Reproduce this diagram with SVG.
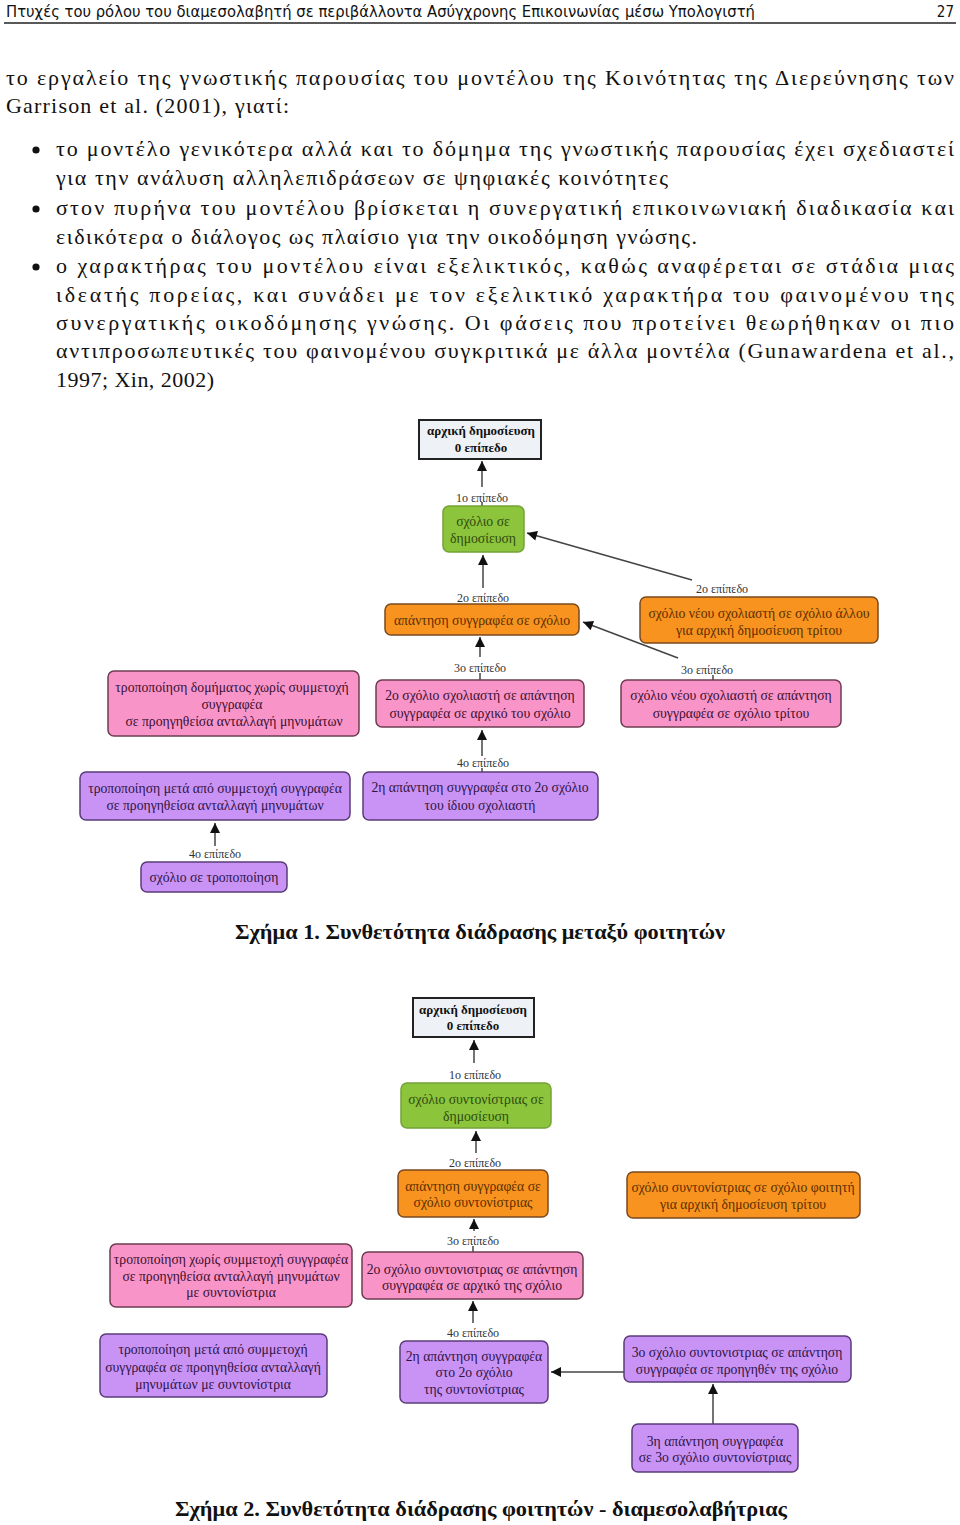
<svg xmlns="http://www.w3.org/2000/svg" width="960" height="1525" viewBox="0 0 960 1525">
<style>
.hdr{font-family:"DejaVu Sans Condensed","DejaVu Sans",sans-serif;font-stretch:condensed;font-size:15px;fill:#111}
.p{font-family:"Liberation Serif",serif;font-size:22px;fill:#111}
.cap{font-family:"Liberation Serif",serif;font-size:21px;font-weight:bold;fill:#111;text-anchor:middle}
.lbl{font-family:"Liberation Serif",serif;font-size:12px;fill:#333;text-anchor:middle}
.t{font-family:"Liberation Serif",serif;font-size:13.7px;text-anchor:middle}
.tb{font-family:"Liberation Serif",serif;font-size:13px;font-weight:bold;fill:#111;text-anchor:middle}
.root{fill:#eef2f7;stroke:#222;stroke-width:2}
.g{fill:#8cc43c;stroke:#74a338;stroke-width:1.5}
.gt{fill:#2f4a10}
.o{fill:#f7931e;stroke:#7a4a20;stroke-width:1.5}
.ot{fill:#5b2e00}
.pk{fill:#f894c8;stroke:#6e3c50;stroke-width:1.5}
.pkt{fill:#3a1030}
.pu{fill:#c992f5;stroke:#5a3c78;stroke-width:1.5}
.put{fill:#2e1444}
.c{stroke:#444;stroke-width:1.5;fill:none}
.ca{stroke:#444;stroke-width:1.5;fill:none;marker-end:url(#ah)}
</style>
<defs>
<marker id="ah" viewBox="0 0 10 10" refX="10" refY="5" markerWidth="11" markerHeight="10" markerUnits="userSpaceOnUse" orient="auto"><path d="M0,0 L10,5 L0,10 z" fill="#111"/></marker>
</defs>
<rect width="960" height="1525" fill="#fff"/>

<g id="header">
<text class="hdr" x="6" y="17" textLength="749" lengthAdjust="spacingAndGlyphs">Πτυχές του ρόλου του διαμεσολαβητή σε περιβάλλοντα Ασύγχρονης Επικοινωνίας μέσω Υπολογιστή</text>
<text class="hdr" x="954" y="17" text-anchor="end">27</text>
<line x1="4" y1="23" x2="956" y2="23" stroke="#222" stroke-width="1.5"/>
</g>

<g id="body-text">
<text class="p" x="6" y="85" textLength="948" lengthAdjust="spacing">το εργαλείο της γνωστικής παρουσίας του μοντέλου της Κοινότητας της Διερεύνησης των</text>
<text class="p" x="6" y="113" textLength="283" lengthAdjust="spacing">Garrison et al. (2001), γιατί:</text>
<circle cx="36" cy="150" r="3.6" fill="#111"/>
<circle cx="36" cy="209" r="3.6" fill="#111"/>
<circle cx="36" cy="267" r="3.6" fill="#111"/>
<text class="p" x="56" y="156" textLength="898" lengthAdjust="spacing">το μοντέλο γενικότερα αλλά και το δόμημα της γνωστικής παρουσίας έχει σχεδιαστεί</text>
<text class="p" x="56" y="185" textLength="612" lengthAdjust="spacing">για την ανάλυση αλληλεπιδράσεων σε ψηφιακές κοινότητες</text>
<text class="p" x="56" y="215" textLength="898" lengthAdjust="spacing">στον πυρήνα του μοντέλου βρίσκεται η συνεργατική επικοινωνιακή διαδικασία και</text>
<text class="p" x="56" y="244" textLength="641" lengthAdjust="spacing">ειδικότερα ο διάλογος ως πλαίσιο για την οικοδόμηση γνώσης.</text>
<text class="p" x="56" y="273" textLength="898" lengthAdjust="spacing">ο χαρακτήρας του μοντέλου είναι εξελικτικός, καθώς αναφέρεται σε στάδια μιας</text>
<text class="p" x="56" y="302" textLength="898" lengthAdjust="spacing">ιδεατής πορείας, και συνάδει με τον εξελικτικό χαρακτήρα του φαινομένου της</text>
<text class="p" x="56" y="330" textLength="898" lengthAdjust="spacing">συνεργατικής οικοδόμησης γνώσης. Οι φάσεις που προτείνει θεωρήθηκαν οι πιο</text>
<text class="p" x="56" y="358" textLength="898" lengthAdjust="spacing">αντιπροσωπευτικές του φαινομένου συγκριτικά με άλλα μοντέλα (Gunawardena et al.,</text>
<text class="p" x="56" y="387" textLength="158" lengthAdjust="spacing">1997; Xin, 2002)</text>
</g>

<!-- Figure 1 -->
<g id="f1-connectors">
<line class="ca" x1="482" y1="487" x2="482" y2="461"/>
<line class="c" x1="482" y1="502" x2="482" y2="506"/>
<line class="ca" x1="483" y1="588" x2="483" y2="555"/>
<line class="ca" x1="692" y1="580" x2="527" y2="533"/>
<line class="ca" x1="480" y1="657" x2="480" y2="637"/>
<line class="c" x1="480" y1="673" x2="480" y2="680"/>
<line class="ca" x1="678" y1="658" x2="583" y2="622"/>
<line class="c" x1="713" y1="675" x2="713" y2="681"/>
<line class="ca" x1="482" y1="756" x2="482" y2="730"/>
<line class="c" x1="482" y1="768" x2="482" y2="773"/>
<line class="ca" x1="215" y1="846" x2="215" y2="823"/>
</g>
<g id="f1-labels">
<text class="lbl" x="482" y="502">1ο επίπεδο</text>
<text class="lbl" x="483" y="602">2ο επίπεδο</text>
<text class="lbl" x="722" y="593">2ο επίπεδο</text>
<text class="lbl" x="480" y="672">3ο επίπεδο</text>
<text class="lbl" x="707" y="674">3ο επίπεδο</text>
<text class="lbl" x="483" y="767">4ο επίπεδο</text>
<text class="lbl" x="215" y="858">4ο επίπεδο</text>
</g>
<g id="f1-root">
<rect class="root" x="419" y="420" width="122" height="39"/>
<text class="tb" x="481" y="435">αρχική δημοσίευση</text>
<text class="tb" x="481" y="452">0 επίπεδο</text>
</g>
<g id="f1-comment">
<rect class="g" x="443" y="506" width="81" height="46" rx="6"/>
<text class="t gt" x="483" y="526">σχόλιο σε</text>
<text class="t gt" x="483" y="543">δημοσίευση</text>
</g>
<g id="f1-reply">
<rect class="o" x="385" y="604" width="194" height="31" rx="6"/>
<text class="t ot" x="482" y="625">απάντηση συγγραφέα σε σχόλιο</text>
</g>
<g id="f1-newcomment">
<rect class="o" x="640" y="597" width="238" height="46" rx="6"/>
<text class="t ot" x="759" y="618">σχόλιο νέου σχολιαστή σε σχόλιο άλλου</text>
<text class="t ot" x="759" y="635">για αρχική δημοσίευση τρίτου</text>
</g>
<g id="f1-modify-no">
<rect class="pk" x="108" y="671" width="251" height="65" rx="6"/>
<text class="t pkt" x="232" y="692">τροποποίηση δομήματος χωρίς συμμετοχή</text>
<text class="t pkt" x="232" y="709">συγγραφέα</text>
<text class="t pkt" x="234" y="726">σε προηγηθείσα ανταλλαγή μηνυμάτων</text>
</g>
<g id="f1-second-comment">
<rect class="pk" x="376" y="680" width="208" height="47" rx="6"/>
<text class="t pkt" x="480" y="700">2ο σχόλιο σχολιαστή σε απάντηση</text>
<text class="t pkt" x="480" y="718">συγγραφέα σε αρχικό του σχόλιο</text>
</g>
<g id="f1-new-reply">
<rect class="pk" x="621" y="680" width="220" height="47" rx="6"/>
<text class="t pkt" x="731" y="700">σχόλιο νέου σχολιαστή σε απάντηση</text>
<text class="t pkt" x="731" y="718">συγγραφέα σε σχόλιο τρίτου</text>
</g>
<g id="f1-modify-with">
<rect class="pu" x="80" y="772" width="270" height="48" rx="6"/>
<text class="t put" x="215" y="793">τροποποίηση μετά από συμμετοχή συγγραφέα</text>
<text class="t put" x="215" y="810">σε προηγηθείσα ανταλλαγή μηνυμάτων</text>
</g>
<g id="f1-second-reply">
<rect class="pu" x="363" y="772" width="235" height="48" rx="6"/>
<text class="t put" x="480" y="792">2η απάντηση συγγραφέα στο 2ο σχόλιο</text>
<text class="t put" x="480" y="810">του ίδιου σχολιαστή</text>
</g>
<g id="f1-comment-mod">
<rect class="pu" x="141" y="862" width="146" height="30" rx="6"/>
<text class="t put" x="214" y="882">σχόλιο σε τροποποίηση</text>
</g>
<text class="cap" x="480" y="939" textLength="490" lengthAdjust="spacingAndGlyphs">Σχήμα 1. Συνθετότητα διάδρασης μεταξύ φοιτητών</text>

<!-- Figure 2 -->
<g id="f2-connectors">
<line class="ca" x1="474" y1="1063" x2="474" y2="1040"/>
<line class="ca" x1="476" y1="1153" x2="476" y2="1131"/>
<line class="ca" x1="474" y1="1231" x2="474" y2="1219"/>
<line class="c" x1="473" y1="1246" x2="473" y2="1252"/>
<line class="ca" x1="473" y1="1323" x2="473" y2="1301"/>
<line class="ca" x1="625" y1="1372" x2="551" y2="1372"/>
<line class="ca" x1="713" y1="1424" x2="713" y2="1384"/>
</g>
<g id="f2-labels">
<text class="lbl" x="475" y="1079">1ο επίπεδο</text>
<text class="lbl" x="475" y="1167">2ο επίπεδο</text>
<text class="lbl" x="473" y="1245">3ο επίπεδο</text>
<text class="lbl" x="473" y="1337">4ο επίπεδο</text>
</g>
<g id="f2-root">
<rect class="root" x="413" y="998" width="121" height="39"/>
<text class="tb" x="473" y="1014">αρχική δημοσίευση</text>
<text class="tb" x="473" y="1030">0 επίπεδο</text>
</g>
<g id="f2-comment">
<rect class="g" x="401" y="1083" width="150" height="45" rx="6"/>
<text class="t gt" x="476" y="1104">σχόλιο συντονίστριας σε</text>
<text class="t gt" x="476" y="1121">δημοσίευση</text>
</g>
<g id="f2-reply">
<rect class="o" x="398" y="1170" width="150" height="47" rx="6"/>
<text class="t ot" x="473" y="1191">απάντηση συγγραφέα σε</text>
<text class="t ot" x="473" y="1207">σχόλιο συντονίστριας</text>
</g>
<g id="f2-mod-comment">
<rect class="o" x="627" y="1172" width="233" height="46" rx="6"/>
<text class="t ot" x="743" y="1192">σχόλιο συντονίστριας σε σχόλιο φοιτητή</text>
<text class="t ot" x="743" y="1209">για αρχική δημοσίευση τρίτου</text>
</g>
<g id="f2-modify-no">
<rect class="pk" x="110" y="1244" width="242" height="63" rx="6"/>
<text class="t pkt" x="231" y="1264">τροποποίηση χωρίς συμμετοχή συγγραφέα</text>
<text class="t pkt" x="231" y="1281">σε προηγηθείσα ανταλλαγή μηνυμάτων</text>
<text class="t pkt" x="231" y="1297">με συντονίστρια</text>
</g>
<g id="f2-second-comment">
<rect class="pk" x="362" y="1252" width="221" height="47" rx="6"/>
<text class="t pkt" x="472" y="1274">2ο σχόλιο συντονιστριας σε απάντηση</text>
<text class="t pkt" x="472" y="1290">συγγραφέα σε αρχικό της σχόλιο</text>
</g>
<g id="f2-modify-with">
<rect class="pu" x="100" y="1334" width="227" height="63" rx="6"/>
<text class="t put" x="213" y="1354">τροποποίηση μετά από συμμετοχή</text>
<text class="t put" x="213" y="1372">συγγραφέα σε προηγηθείσα ανταλλαγή</text>
<text class="t put" x="213" y="1389">μηνυμάτων με συντονίστρια</text>
</g>
<g id="f2-second-reply">
<rect class="pu" x="400" y="1341" width="148" height="62" rx="6"/>
<text class="t put" x="474" y="1361">2η απάντηση συγγραφέα</text>
<text class="t put" x="474" y="1377">στο 2ο σχόλιο</text>
<text class="t put" x="474" y="1394">της συντονίστριας</text>
</g>
<g id="f2-third-comment">
<rect class="pu" x="624" y="1336" width="227" height="46" rx="6"/>
<text class="t put" x="737" y="1357">3ο σχόλιο συντονιστριας σε απάντηση</text>
<text class="t put" x="737" y="1374">συγγραφέα σε προηγηθέν της σχόλιο</text>
</g>
<g id="f2-third-reply">
<rect class="pu" x="632" y="1424" width="166" height="48" rx="6"/>
<text class="t put" x="715" y="1446">3η απάντηση συγγραφέα</text>
<text class="t put" x="715" y="1462">σε 3ο σχόλιο συντονίστριας</text>
</g>
<text class="cap" x="481" y="1516" textLength="612" lengthAdjust="spacingAndGlyphs">Σχήμα 2. Συνθετότητα διάδρασης φοιτητών - διαμεσολαβήτριας</text>
</svg>
